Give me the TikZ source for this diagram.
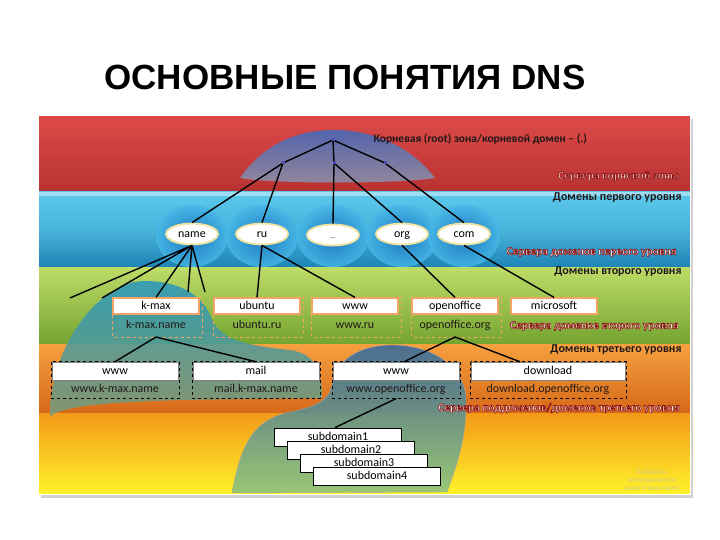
\documentclass[tikz,border=0pt]{standalone}
\usepackage{fontspec}
\setmainfont{Carlito}
\newfontfamily\titlefont{Liberation Sans}
\usetikzlibrary{positioning,shapes.geometric,calc}

\definecolor{redtop}{HTML}{DC4A48}
\definecolor{redbot}{HTML}{B83232}
\definecolor{cyantop}{HTML}{5CC8EC}
\definecolor{cyanbot}{HTML}{1D84B6}
\definecolor{greentop}{HTML}{BEDC68}
\definecolor{greenbot}{HTML}{74A430}
\definecolor{orangetop}{HTML}{F6A040}
\definecolor{orangebot}{HTML}{D66818}
\definecolor{yellowtop}{HTML}{F39A18}
\definecolor{yellowbot}{HTML}{FFF22A}
\definecolor{bubin}{HTML}{1A70C0}
\definecolor{bubout}{HTML}{46B8E6}
\definecolor{ovalrim}{HTML}{F2E2A0}
\definecolor{sldrim}{HTML}{F4A466}
\definecolor{textdark}{HTML}{201818}
\definecolor{blobtop}{HTML}{2A98BC}
\definecolor{blobbot}{HTML}{7A9C78}
\definecolor{zonetop}{HTML}{3A6A9C}
\definecolor{zonebot}{HTML}{8EC27E}
\definecolor{rootzonetop}{HTML}{4468B8}
\definecolor{rootzonebot}{HTML}{9090A8}
\definecolor{wmark}{HTML}{D8C888}

% white letters with a dark red rim
\newcommand\srvtext[1]{\special{pdf:literal direct 0.55 0.06 0.06 RG 0.6 w 2 Tr}#1\special{pdf:literal direct 0 Tr 0.4 w}}

\begin{document}
\begin{tikzpicture}[x=1pt,y=-1pt,
    txt/.style={inner sep=0pt,text height=8.5pt,text depth=2.5pt,font=\fontsize{12}{12}\selectfont},
    tld/.style={txt,ellipse,fill=white,draw=ovalrim,line width=1.8pt,minimum width=52pt,minimum height=21pt},
    sld/.style={txt,rectangle,fill=white,draw=sldrim,line width=1.2pt,minimum width=86pt,minimum height=16pt},
    sldname/.style={txt,minimum width=86pt,minimum height=22pt,text=textdark},
    thd/.style={txt,rectangle,fill=white,draw=gray,line width=0.5pt,minimum width=126pt,minimum height=18pt},
    thdname/.style={txt,minimum width=126pt,minimum height=18pt,text=textdark},
    subbox/.style={txt,rectangle,fill=white,draw=black,line width=0.8pt,minimum width=127pt,minimum height=18pt},
    link/.style={line width=1.4pt,black},
    lvl/.style={anchor=east,text=textdark,font=\bfseries\fontsize{12}{12}\selectfont},
    srv/.style={anchor=east,text=white,font=\bfseries\fontsize{11.5}{11.5}\selectfont}]
\useasboundingbox (0,0) rectangle (720,540);

\node (title) at (345,77) {\titlefont\bfseries\fontsize{35}{35}\selectfont ОСНОВНЫЕ ПОНЯТИЯ DNS};

% bands
\fill[black!18] (41,119) rectangle (693,498);
\shade[top color=redtop,bottom color=redbot] (38,116) rectangle (690,192);
\shade[top color=cyantop,bottom color=cyanbot,middle color=cyantop!70!cyanbot] (38,192) rectangle (690,267);
\fill[cyantop!60!white] (38,192) rectangle (690,196);
\shade[top color=greentop,bottom color=greenbot,middle color=greentop!50!greenbot] (38,267) rectangle (690,344);
\shade[top color=orangetop,bottom color=orangebot] (38,344) rectangle (690,413);
\shade[top color=yellowtop,bottom color=yellowbot] (38,413) rectangle (690,494);
\draw[white,line width=1pt] (38,116) rectangle (690,494);

% server zones
\foreach \bx in {192,262,333,402,464}
  \shade[inner color=bubin,outer color=bubout,opacity=0.85] (\bx,236) ellipse (36pt and 31pt);
\shade[top color=rootzonetop,bottom color=rootzonebot,opacity=0.9] (240,178) .. controls (265,142) and (300,130) .. (335,130) .. controls (370,130) and (410,145) .. (435,178) .. controls (400,184) and (270,184) .. (240,178) -- cycle;
\shade[top color=blobtop,bottom color=blobbot,opacity=0.88] (50,417) .. controls (50,370) and (70,330) .. (95,305) .. controls (115,287) and (130,281) .. (145,281) .. controls (175,281) and (200,292) .. (210,315) .. controls (218,338) and (240,345) .. (290,350) .. controls (318,354) and (322,375) .. (322,398) -- (180,400) .. controls (120,402) and (60,405) .. (50,417) -- cycle;
\shade[top color=zonetop,bottom color=zonebot,opacity=0.9,draw=gray!70] (232,493) .. controls (240,450) and (250,420) .. (290,412) .. controls (315,407) and (330,400) .. (332,385) .. controls (335,360) and (360,345) .. (392,345) .. controls (430,345) and (465,365) .. (466,400) .. controls (467,440) and (455,470) .. (447,492) -- cycle;

% root
\coordinate (root) at (333,140);
\coordinate (s1) at (283,163);
\coordinate (s2) at (334,163);
\coordinate (s3) at (385,163);

% first level
\node[tld] (name) at (192,234) {name};
\node[tld] (ru) at (262,234) {ru};
\node[tld] (dots) at (333,235) {\fontsize{7}{7}\selectfont ...};
\node[tld] (org) at (402,234) {org};
\node[tld] (com) at (464,234) {com};

% second level
\node[sld] (kmax) at (156,306) {k-max};
\node[sldname,below=0pt of kmax] (kmaxname) {k-max.name};
\node[sld] (ubuntu) at (257,306) {ubuntu};
\node[sldname,below=0pt of ubuntu] (ubunturu) {ubuntu.ru};
\node[sld] (wwwru) at (355,306) {www};
\node[sldname,below=0pt of wwwru] (wwwruname) {www.ru};
\node[sld] (ooffice) at (455,306) {openoffice};
\node[sldname,below=0pt of ooffice] (oofficeorg) {openoffice.org};
\node[sld] (msoft) at (554,306) {microsoft};
\foreach \n/\m in {kmax/kmaxname,ubuntu/ubunturu,wwwru/wwwruname,ooffice/oofficeorg}
  \draw[sldrim,dashed,line width=1pt] (\n.north west) rectangle ([xshift=3pt]\m.south east);

% third level
\node[thd] (wwwk) at (115,371) {www};
\node[thdname,below=0pt of wwwk] (wwwkname) {www.k-max.name};
\node[thd] (mail) at (256,371) {mail};
\node[thdname,below=0pt of mail] (mailname) {mail.k-max.name};
\node[thd] (wwwo) at (396,371) {www};
\node[thdname,below=0pt of wwwo] (wwwoname) {www.openoffice.org};
\node[thd,minimum width=154pt] (dload) at (548,371) {download};
\node[thdname,minimum width=154pt,below=0pt of dload] (dloadname) {download.openoffice.org};
\foreach \n/\m in {wwwk/wwwkname,mail/mailname,wwwo/wwwoname,dload/dloadname}
  \draw[black,dashed,line width=1pt] (\n.north west) rectangle ([xshift=1pt]\m.south east);

% subdomains
\node[subbox] (sub1) at (338,437) {subdomain1};
\node[subbox] (sub2) at (351,450) {subdomain2};
\node[subbox] (sub3) at (364,463) {subdomain3};
\node[subbox] (sub4) at (377,476) {subdomain4};

% tree
\coordinate (n1) at (70,298);
\coordinate (n2) at (102,298);
\coordinate (n3) at (188,292);
\coordinate (n4) at (205,292);
\draw[link] (s1) -- (root) -- (s3) (root) -- (s2);
\draw[link] (s1) -- (name.north) (s1) -- (ru.north) (s2) -- (dots.north) (s2) -- (org.north) (s3) -- (com.north);
\draw[link] (name.south) -- (n1) (name.south) -- (n2) (name.south) -- (kmax.north) (name.south) -- (n3) (name.south) -- (n4);
\draw[link] (ru.south) -- (ubuntu.north) (ru.south) -- (wwwru.north) (org.south) -- (ooffice.north) (com.south) -- (msoft.north);
\draw[link] (kmaxname.south) -- (wwwk.north) (kmaxname.south) -- (mail.north);
\draw[link] (oofficeorg.south) -- ($(wwwo.north)+(8,0)$) (oofficeorg.south) -- ($(dload.north)+(-28,0)$);
\draw[link] (wwwoname.south) -- ($(sub1.north)+(-3,0)$);
\foreach \s in {root,s1,s2,s3}
  \fill[blue!40!gray] (\s) ++(-1.5,-1.5) rectangle ++(3,3);

% labels
\node[anchor=west,text=textdark,font=\bfseries\fontsize{11.5}{11.5}\selectfont] (rootlbl) at (370,139) {Корневая (root) зона/корневой домен – (.)};
\node[lvl] (lvl1) at (685,198) {Домены первого уровня};
\node[lvl] (lvl2) at (685,272) {Домены второго уровня};
\node[lvl] (lvl3) at (685,350) {Домены третьего уровня};
\node[align=center,text=wmark,font=\fontsize{7.5}{8}\selectfont] (wm) at (652,480) {Любитель\\экспериментов\\www.k-max.name};
\node[srv] (srv0) at (682,176) {\srvtext{Сервера корневой зоны}};
\node[srv] (srv1) at (680,252) {\srvtext{Сервера доменов первого уровня}};
\node[srv] (srv2) at (682,326) {\srvtext{Сервера доменов второго уровня}};
\node[srv] (srv3) at (683,408) {\srvtext{Сервера поддоменов/доменов третьего уровня}};
\end{tikzpicture}
\end{document}
